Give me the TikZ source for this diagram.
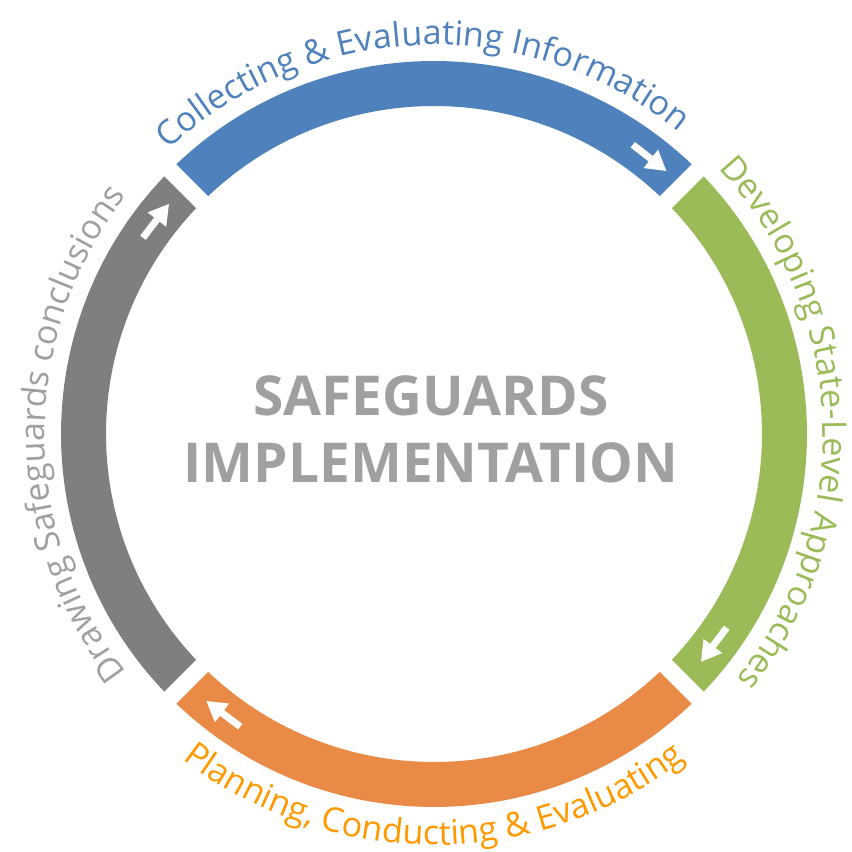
\documentclass[tikz,border=0pt]{standalone}
\usepackage{fontspec}
\usepackage{tikz}
\usetikzlibrary{arrows.meta,decorations.text}
\newfontfamily\arcfont{Open Sans}
\newfontfamily\titlefont{Open Sans}[BoldFont=* Bold]
\definecolor{segblue}{HTML}{4F81BD}
\definecolor{seggreen}{HTML}{9BBB59}
\definecolor{segorange}{HTML}{E98A46}
\definecolor{seggray}{HTML}{7F7F7F}
\definecolor{txtorange}{HTML}{FF9900}
\definecolor{txtgray}{HTML}{A0A0A0}
\tikzset{flowarrow/.style={white, line width=7bp, -{Triangle[length=20bp, width=22bp]}},
         arclabel/.style={decorate, decoration={text along path, text align=center}},
         titletext/.style={align=center, text=txtgray, font=\titlefont\bfseries\fontsize{55bp}{67bp}\selectfont},}

\begin{document}
\begin{tikzpicture}[x=1bp, y=1bp]
\useasboundingbox (-434,-418) rectangle (418,434);
% ring parts, outer radius 373, inner radius 328
\foreach \a/\b/\c in {135/45/segblue, 45/-45/seggreen, -45/-135/segorange, 225/135/seggray}
  \fill[\c] ({\a-1.31}:373) arc[start angle={\a-1.31}, end angle={\b+1.31}, radius=373]
    -- ({\b+1.49}:328) arc[start angle={\b+1.49}, end angle={\a-1.49}, radius=328] -- cycle;
\coordinate (bluetail) at (55.5:351);
\coordinate (bluetip) at (48.5:351);
\coordinate (greentail) at (-33.5:351);
\coordinate (greentip) at (-40.5:351);
\coordinate (orangetail) at (-123.5:351);
\coordinate (orangetip) at (-130.5:351);
\coordinate (graytail) at (146:351);
\coordinate (graytip) at (139:351);
\draw[flowarrow] (bluetail) -- (bluetip);
\draw[flowarrow] (greentail) -- (greentip);
\draw[flowarrow] (orangetail) -- (orangetip);
\draw[flowarrow] (graytail) -- (graytip);
\path[arclabel, decoration={text={|\arcfont\fontsize{34bp}{40bp}\selectfont\color{segblue}|Collecting {\&} Evaluating Information}}]
  (152:389) arc[start angle=152, end angle=32, radius=389];
\path[arclabel, decoration={text={|\arcfont\fontsize{34bp}{40bp}\selectfont\color{seggreen}|Developing State-Level Approaches}}]
  (62:389) arc[start angle=62, end angle=-58, radius=389];
\path[arclabel, decoration={text={|\arcfont\fontsize{34bp}{40bp}\selectfont\color{txtorange}|Planning, Conducting {\&} Evaluating}}]
  (-150:411) arc[start angle=-150, end angle=-30, radius=411];
\path[arclabel, decoration={text={|\arcfont\fontsize{34bp}{40bp}\selectfont\color{txtgray}|Drawing Safeguards conclusions}}]
  (240:389) arc[start angle=240, end angle=120, radius=389];
\node[titletext] (title) at (-3,4.5) {SAFEGUARDS\\IMPLEMENTATION};
\end{tikzpicture}
\end{document}
